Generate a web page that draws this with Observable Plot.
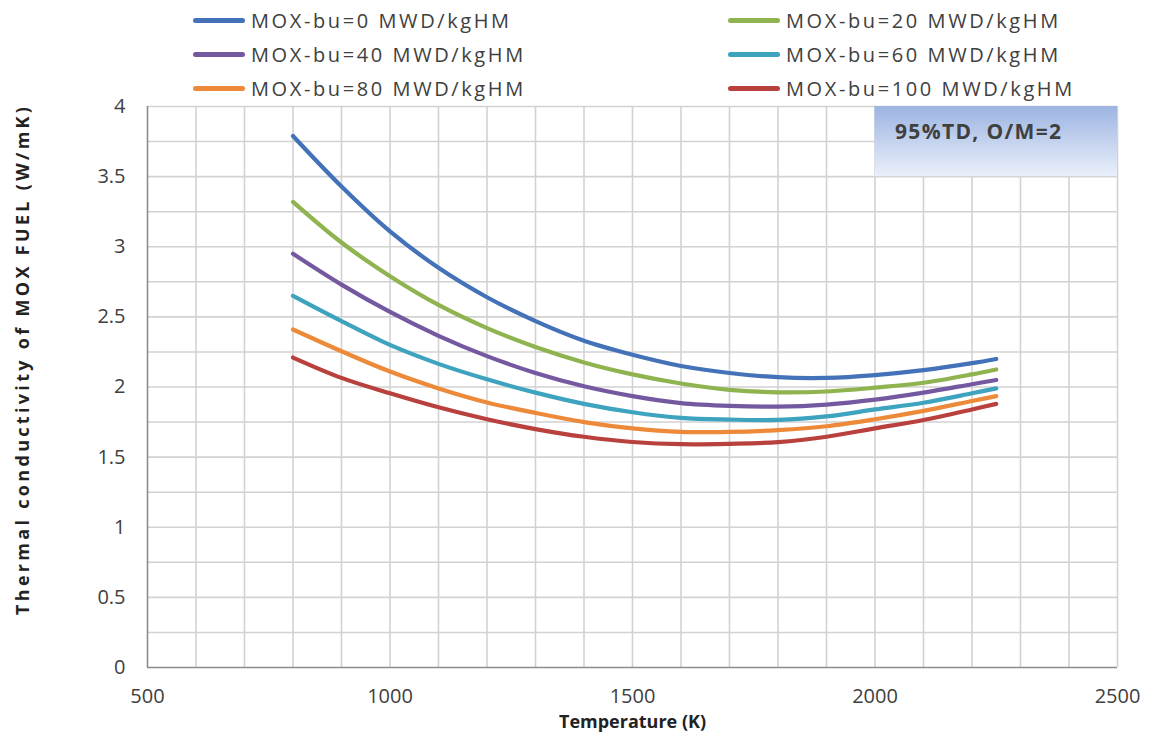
<!DOCTYPE html>
<html><head><meta charset="utf-8">
<script src="https://cdn.jsdelivr.net/npm/d3@7"></script>
<script src="https://cdn.jsdelivr.net/npm/@observablehq/plot@0.6"></script>
<style>
body{margin:0;background:#fff;}
#wrap{position:relative;width:1152px;height:736px;overflow:hidden;}
.item{position:absolute;display:flex;align-items:center;height:30px;font-family:"Open Sans",sans-serif;font-size:20px;color:#404040;letter-spacing:2.6px;white-space:nowrap;}
.item .sw{display:inline-block;width:52px;height:5px;border-radius:3px;margin-right:6px;}
</style></head><body><div id="wrap"></div>
<script>
const temperature = [800,900,1000,1100,1200,1300,1400,1500,1600,1700,1800,1900,2000,2100,2200,2250];
const bu0   = [3.79,3.43,3.11,2.85,2.64,2.47,2.33,2.23,2.15,2.10,2.07,2.065,2.085,2.12,2.17,2.20];
const bu20  = [3.32,3.03,2.79,2.585,2.42,2.285,2.175,2.09,2.025,1.98,1.962,1.968,1.995,2.03,2.09,2.125];
const bu40  = [2.95,2.73,2.535,2.365,2.22,2.10,2.005,1.935,1.885,1.865,1.86,1.875,1.91,1.96,2.02,2.05];
const bu60  = [2.65,2.47,2.30,2.165,2.055,1.96,1.88,1.82,1.78,1.768,1.765,1.79,1.84,1.888,1.955,1.99];
const bu80  = [2.41,2.255,2.11,1.99,1.89,1.815,1.75,1.705,1.68,1.68,1.693,1.72,1.77,1.83,1.90,1.935];
const bu100 = [2.21,2.065,1.955,1.855,1.77,1.70,1.645,1.608,1.592,1.595,1.607,1.645,1.705,1.765,1.84,1.88];
const seriesNames = ["MOX-bu=0 MWD/kgHM","MOX-bu=20 MWD/kgHM","MOX-bu=40 MWD/kgHM","MOX-bu=60 MWD/kgHM","MOX-bu=80 MWD/kgHM","MOX-bu=100 MWD/kgHM"];
const seriesColors = ["#4472b8","#8fb34f","#7559a0","#3ea3bf","#ec8a3a","#b8403d"];
const xTicks = [500,1000,1500,2000,2500];
const yTicks = [0,0.5,1,1.5,2,2.5,3,3.5,4];
const xGrid = [600,700,800,900,1000,1100,1200,1300,1400,1500,1600,1700,1800,1900,2000,2100,2200,2300,2400,2500];
const yGrid = [0.25,0.5,0.75,1,1.25,1.5,1.75,2,2.25,2.5,2.75,3,3.25,3.5,3.75,4];
const xLabel = "Temperature (K)";
const yLabel = "Thermal conductivity of MOX FUEL (W/mK)";
const annotation = "95%TD, O/M=2";

const values = [bu0,bu20,bu40,bu60,bu80,bu100];
const rows = [];
seriesNames.forEach((name,i)=>values[i].forEach((v,j)=>rows.push({T:temperature[j],k:v,series:name})));

const chart = Plot.plot({
  width:1152, height:736,
  marginTop:106, marginLeft:147, marginRight:35, marginBottom:69,
  style:{fontFamily:"Open Sans, sans-serif", fontSize:"20px", color:"#404040", background:"white"},
  x:{domain:[500,2500], label:null},
  y:{domain:[0,4], label:null},
  color:{domain:seriesNames, range:seriesColors},
  marks:[
    Plot.gridX(xGrid,{stroke:"#d2d2d2", strokeOpacity:1, strokeWidth:1.6}),
    Plot.gridY(yGrid,{stroke:"#d2d2d2", strokeOpacity:1, strokeWidth:1.6}),
    Plot.rect([annotation],{x1:2000,x2:2500,y1:3.5,y2:4,fill:"url(#boxgrad)"}),
    Plot.ruleX([500],{stroke:"#8c8c8c", strokeWidth:1.6}),
    Plot.ruleY([0],{stroke:"#8c8c8c", strokeWidth:1.6}),
    Plot.axisX(xTicks,{tickSize:0, tickPadding:21, fontSize:20, label:null, tickFormat:d=>String(d)}),
    Plot.axisY(yTicks,{tickSize:0, tickPadding:22, fontSize:20, label:null, tickFormat:d=>String(d)}),
    Plot.line(rows,{x:"T", y:"k", stroke:"series", strokeWidth:4.2, curve:"catmull-rom"}),
    Plot.text([annotation],{x:2000, y:3.75, dx:20, dy:-9, textAnchor:"start", fontWeight:"bold", fontSize:21, fill:"#404040"}),
    Plot.text([xLabel],{frameAnchor:"bottom", dy:60, fontWeight:"bold", fontSize:18, fill:"#222"}),
    Plot.text([yLabel],{frameAnchor:"left", textAnchor:"middle", dx:-124, dy:-26, rotate:-90, fontWeight:"bold", fontSize:18, fill:"#222"})
  ]
});

const defs = d3.select(chart).insert("defs",":first-child");
const g = defs.append("linearGradient").attr("id","boxgrad").attr("x1",0).attr("y1",0).attr("x2",0).attr("y2",1);
g.append("stop").attr("offset","0%").attr("stop-color","#9cb4e2");
g.append("stop").attr("offset","100%").attr("stop-color","#eaf0fa");
d3.select(chart).selectAll("text").filter(function(){return this.textContent===yLabel;})
  .attr("textLength",508).attr("lengthAdjust","spacing");
d3.select(chart).selectAll("text").filter(function(){return this.textContent===annotation;})
  .attr("textLength",166).attr("lengthAdjust","spacing");

const wrap = document.getElementById("wrap");
wrap.appendChild(chart);

const legendPos = [[193,5],[728,5],[193,39],[728,39],[193,73],[728,73]];
seriesNames.forEach((name,i)=>{
  const d = document.createElement("div");
  d.className = "item";
  d.style.left = legendPos[i][0]+"px";
  d.style.top = legendPos[i][1]+"px";
  const sw = document.createElement("span");
  sw.className = "sw"; sw.style.background = seriesColors[i];
  const t = document.createElement("span"); t.textContent = name;
  d.appendChild(sw); d.appendChild(t);
  wrap.appendChild(d);
});
</script></body></html>
